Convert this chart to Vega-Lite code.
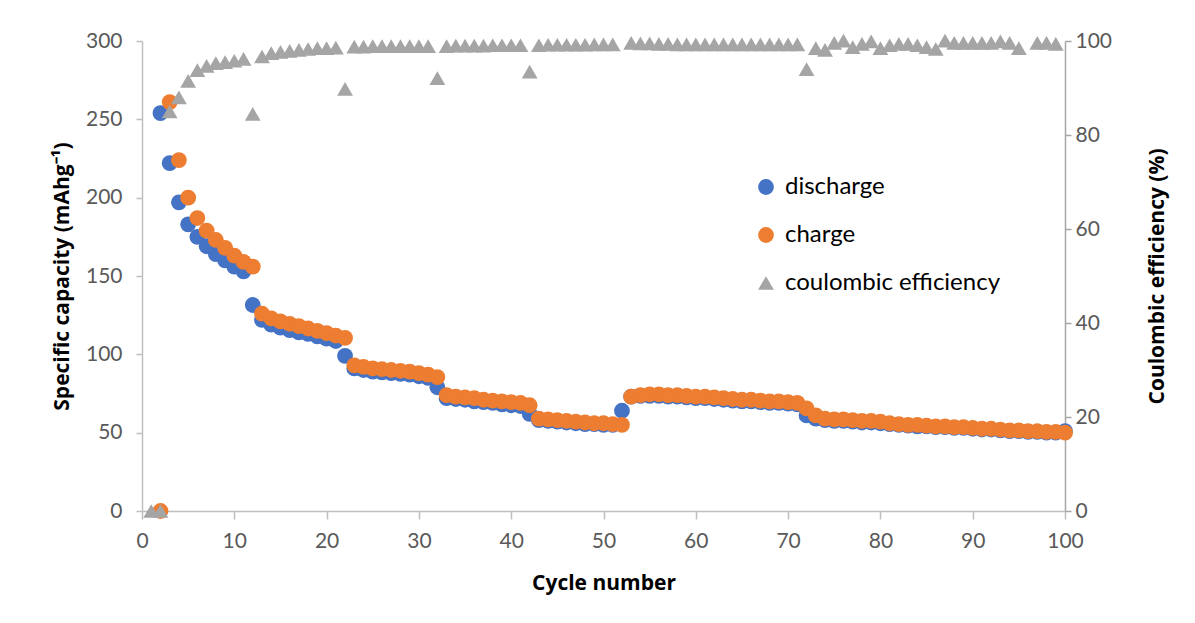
{
  "$schema": "https://vega.github.io/schema/vega-lite/v6.json",
  "autosize": {"type": "none"},
  "padding": {"left": 142, "top": 41, "right": 130, "bottom": 112},
  "width": 923,
  "height": 470,
  "background": "white",
  "config": {
    "view": {"stroke": null},
    "font": "Lato",
    "axis": {"grid": false, "labelFlush": false, "labelFont": "Lato", "titleFont": "Open Sans", "labelColor": "#595959", "titleColor": "#000000", "labelFontSize": 21, "titleFontSize": 21, "titleFontWeight": "bold", "domainColor": "#BFBFBF", "tickColor": "#BFBFBF", "tickSize": 6, "domainWidth": 1.5, "tickWidth": 1.5}
  },
  "datasets": {
    "dis": [
      {"cycle":2,"v":254},{"cycle":3,"v":222},{"cycle":4,"v":197},{"cycle":5,"v":183},{"cycle":6,"v":175},{"cycle":7,"v":169},{"cycle":8,"v":164},{"cycle":9,"v":160},{"cycle":10,"v":156},{"cycle":11,"v":153},
      {"cycle":12,"v":131.5},{"cycle":13,"v":122},{"cycle":14,"v":119},{"cycle":15,"v":117},{"cycle":16,"v":115.5},{"cycle":17,"v":114},{"cycle":18,"v":113},{"cycle":19,"v":111.5},{"cycle":20,"v":110},{"cycle":21,"v":108.5},
      {"cycle":22,"v":99},{"cycle":23,"v":91},{"cycle":24,"v":90},{"cycle":25,"v":89},{"cycle":26,"v":88.5},{"cycle":27,"v":88},{"cycle":28,"v":87.5},{"cycle":29,"v":87},{"cycle":30,"v":86},{"cycle":31,"v":85},
      {"cycle":32,"v":79},{"cycle":33,"v":72},{"cycle":34,"v":71.5},{"cycle":35,"v":71},{"cycle":36,"v":70},{"cycle":37,"v":69.5},{"cycle":38,"v":69},{"cycle":39,"v":68},{"cycle":40,"v":67.5},{"cycle":41,"v":67},
      {"cycle":42,"v":62},{"cycle":43,"v":58},{"cycle":44,"v":57.5},{"cycle":45,"v":57},{"cycle":46,"v":56.5},{"cycle":47,"v":56},{"cycle":48,"v":55.5},{"cycle":49,"v":55.5},{"cycle":50,"v":55},{"cycle":51,"v":55},
      {"cycle":52,"v":64},{"cycle":53,"v":73},{"cycle":54,"v":73.5},{"cycle":55,"v":73.5},{"cycle":56,"v":73.5},{"cycle":57,"v":73},{"cycle":58,"v":73},{"cycle":59,"v":72.5},{"cycle":60,"v":72},{"cycle":61,"v":72},
      {"cycle":62,"v":71.5},{"cycle":63,"v":71},{"cycle":64,"v":70.5},{"cycle":65,"v":70},{"cycle":66,"v":70},{"cycle":67,"v":69.5},{"cycle":68,"v":69},{"cycle":69,"v":69},{"cycle":70,"v":68.5},{"cycle":71,"v":68},
      {"cycle":72,"v":61},{"cycle":73,"v":59},{"cycle":74,"v":58},{"cycle":75,"v":57.5},{"cycle":76,"v":57.5},{"cycle":77,"v":57},{"cycle":78,"v":56.5},{"cycle":79,"v":56.5},{"cycle":80,"v":56},{"cycle":81,"v":55.5},
      {"cycle":82,"v":55},{"cycle":83,"v":54.5},{"cycle":84,"v":54},{"cycle":85,"v":54},{"cycle":86,"v":53.5},{"cycle":87,"v":53.5},{"cycle":88,"v":53},{"cycle":89,"v":53},{"cycle":90,"v":52.5},{"cycle":91,"v":52},
      {"cycle":92,"v":52},{"cycle":93,"v":51.5},{"cycle":94,"v":51},{"cycle":95,"v":51},{"cycle":96,"v":50.5},{"cycle":97,"v":50.5},{"cycle":98,"v":50},{"cycle":99,"v":50},{"cycle":100,"v":51}
    ],
    "chg": [
      {"cycle":2,"v":0},{"cycle":3,"v":261},{"cycle":4,"v":224},{"cycle":5,"v":200},{"cycle":6,"v":187},{"cycle":7,"v":179},{"cycle":8,"v":173},{"cycle":9,"v":168},{"cycle":10,"v":163},{"cycle":11,"v":159},
      {"cycle":12,"v":156},{"cycle":13,"v":126},{"cycle":14,"v":123},{"cycle":15,"v":121},{"cycle":16,"v":119.5},{"cycle":17,"v":118},{"cycle":18,"v":116.5},{"cycle":19,"v":115},{"cycle":20,"v":113.5},{"cycle":21,"v":112},
      {"cycle":22,"v":110.5},{"cycle":23,"v":93},{"cycle":24,"v":92},{"cycle":25,"v":91},{"cycle":26,"v":90.5},{"cycle":27,"v":90},{"cycle":28,"v":89.5},{"cycle":29,"v":89},{"cycle":30,"v":88},{"cycle":31,"v":87},
      {"cycle":32,"v":85.5},{"cycle":33,"v":74},{"cycle":34,"v":73},{"cycle":35,"v":72.5},{"cycle":36,"v":72},{"cycle":37,"v":71},{"cycle":38,"v":70.5},{"cycle":39,"v":70},{"cycle":40,"v":69.5},{"cycle":41,"v":69},
      {"cycle":42,"v":67.5},{"cycle":43,"v":59},{"cycle":44,"v":58.5},{"cycle":45,"v":58},{"cycle":46,"v":57.5},{"cycle":47,"v":57},{"cycle":48,"v":56.5},{"cycle":49,"v":56},{"cycle":50,"v":56},{"cycle":51,"v":55.5},
      {"cycle":52,"v":55},{"cycle":53,"v":73},{"cycle":54,"v":74},{"cycle":55,"v":74.5},{"cycle":56,"v":74.5},{"cycle":57,"v":74},{"cycle":58,"v":74},{"cycle":59,"v":73.5},{"cycle":60,"v":73},{"cycle":61,"v":73},
      {"cycle":62,"v":72.5},{"cycle":63,"v":72},{"cycle":64,"v":71.5},{"cycle":65,"v":71},{"cycle":66,"v":71},{"cycle":67,"v":70.5},{"cycle":68,"v":70},{"cycle":69,"v":70},{"cycle":70,"v":69.5},{"cycle":71,"v":69},
      {"cycle":72,"v":65.5},{"cycle":73,"v":61},{"cycle":74,"v":59},{"cycle":75,"v":58.5},{"cycle":76,"v":58.5},{"cycle":77,"v":58},{"cycle":78,"v":57.5},{"cycle":79,"v":57.5},{"cycle":80,"v":57},{"cycle":81,"v":56},
      {"cycle":82,"v":55.5},{"cycle":83,"v":55},{"cycle":84,"v":55},{"cycle":85,"v":54.5},{"cycle":86,"v":54},{"cycle":87,"v":54},{"cycle":88,"v":53.5},{"cycle":89,"v":53.5},{"cycle":90,"v":53},{"cycle":91,"v":52.5},
      {"cycle":92,"v":52.5},{"cycle":93,"v":52},{"cycle":94,"v":51.5},{"cycle":95,"v":51.5},{"cycle":96,"v":51},{"cycle":97,"v":51},{"cycle":98,"v":50.5},{"cycle":99,"v":50.5},{"cycle":100,"v":50}
    ],
    "ce": [
      {"cycle":1,"v":0},{"cycle":2,"v":0},{"cycle":3,"v":85},{"cycle":4,"v":88},{"cycle":5,"v":91.5},{"cycle":6,"v":93.8},{"cycle":7,"v":94.7},{"cycle":8,"v":95.3},{"cycle":9,"v":95.5},{"cycle":10,"v":95.8},
      {"cycle":11,"v":96.2},{"cycle":12,"v":84.5},{"cycle":13,"v":96.7},{"cycle":14,"v":97.4},{"cycle":15,"v":97.7},{"cycle":16,"v":97.9},{"cycle":17,"v":98.1},{"cycle":18,"v":98.3},{"cycle":19,"v":98.5},{"cycle":20,"v":98.5},
      {"cycle":21,"v":98.6},{"cycle":22,"v":89.8},{"cycle":23,"v":98.8},{"cycle":24,"v":98.8},{"cycle":25,"v":98.9},{"cycle":26,"v":98.9},{"cycle":27,"v":98.9},{"cycle":28,"v":98.9},{"cycle":29,"v":98.9},{"cycle":30,"v":98.9},
      {"cycle":31,"v":98.9},{"cycle":32,"v":92.1},{"cycle":33,"v":98.9},{"cycle":34,"v":99},{"cycle":35,"v":99},{"cycle":36,"v":99},{"cycle":37,"v":99},{"cycle":38,"v":99.1},{"cycle":39,"v":99.1},{"cycle":40,"v":99.1},
      {"cycle":41,"v":99.1},{"cycle":42,"v":93.5},{"cycle":43,"v":99.1},{"cycle":44,"v":99.2},{"cycle":45,"v":99.2},{"cycle":46,"v":99.2},{"cycle":47,"v":99.2},{"cycle":48,"v":99.2},{"cycle":49,"v":99.3},{"cycle":50,"v":99.3},
      {"cycle":51,"v":99.3},{"cycle":53,"v":99.6},{"cycle":54,"v":99.5},{"cycle":55,"v":99.5},{"cycle":56,"v":99.4},{"cycle":57,"v":99.4},{"cycle":58,"v":99.3},{"cycle":59,"v":99.3},{"cycle":60,"v":99.3},
      {"cycle":61,"v":99.3},{"cycle":62,"v":99.3},{"cycle":63,"v":99.3},{"cycle":64,"v":99.3},{"cycle":65,"v":99.3},{"cycle":66,"v":99.3},{"cycle":67,"v":99.3},{"cycle":68,"v":99.3},{"cycle":69,"v":99.3},{"cycle":70,"v":99.3},
      {"cycle":71,"v":99.3},{"cycle":72,"v":94},{"cycle":73,"v":98.5},{"cycle":74,"v":98.1},{"cycle":75,"v":99.6},{"cycle":76,"v":100.1},{"cycle":77,"v":98.7},{"cycle":78,"v":99.4},{"cycle":79,"v":99.9},{"cycle":80,"v":98.5},
      {"cycle":81,"v":99.1},{"cycle":82,"v":99.4},{"cycle":83,"v":99.4},{"cycle":84,"v":99.1},{"cycle":85,"v":98.7},{"cycle":86,"v":98.3},{"cycle":87,"v":100.1},{"cycle":88,"v":99.6},{"cycle":89,"v":99.6},{"cycle":90,"v":99.6},
      {"cycle":91,"v":99.6},{"cycle":92,"v":99.6},{"cycle":93,"v":99.9},{"cycle":94,"v":99.6},{"cycle":95,"v":98.5},{"cycle":97,"v":99.6},{"cycle":98,"v":99.6},{"cycle":99,"v":99.4}
    ]
  },
  "encoding": {
    "x": {"field": "cycle", "type": "quantitative", "scale": {"domain": [0, 100], "nice": false},
      "axis": {"values": [0,10,20,30,40,50,60,70,80,90,100], "title": "Cycle number", "tickSize": 8, "labelPadding": 11, "titlePadding": 21}}
  },
  "layer": [
    {
      "layer": [
        {"data": {"name": "dis"}, "transform": [{"calculate": "'discharge'", "as": "series"}],
         "mark": {"type": "point", "filled": true, "opacity": 1, "size": 250},
         "encoding": {
           "y": {"field": "v", "type": "quantitative", "scale": {"domain": [0, 300], "nice": false},
             "axis": {"values": [0,50,100,150,200,250,300], "title": "Specific capacity (mAhg⁻¹)", "labelPadding": 14, "titlePadding": 13}},
           "color": {"field": "series", "type": "nominal", "scale": {"domain": ["discharge", "charge", "coulombic efficiency"], "range": ["#4472C4", "#ED7D31", "#A5A5A5"]}, "legend": {"title": null, "orient": "none", "legendX": 612, "legendY": 134, "labelFontSize": 24, "labelFont": "Lato", "labelColor": "#000000", "labelLimit": 500, "symbolSize": 250, "rowPadding": 24, "labelOffset": 7, "symbolOpacity": 1}},
           "shape": {"field": "series", "type": "nominal", "scale": {"domain": ["discharge", "charge", "coulombic efficiency"], "range": ["circle", "circle", "triangle-up"]}, "legend": {"title": null, "orient": "none", "legendX": 612, "legendY": 134, "labelFontSize": 24, "labelFont": "Lato", "labelColor": "#000000", "labelLimit": 500, "symbolSize": 250, "rowPadding": 24, "labelOffset": 7, "symbolOpacity": 1}}
         }},
        {"data": {"name": "chg"}, "transform": [{"calculate": "'charge'", "as": "series"}],
         "mark": {"type": "point", "filled": true, "opacity": 1, "size": 250},
         "encoding": {
           "y": {"field": "v", "type": "quantitative"},
           "color": {"field": "series", "type": "nominal"},
           "shape": {"field": "series", "type": "nominal"}
         }}
      ]
    },
    {"data": {"name": "ce"}, "transform": [{"calculate": "'coulombic efficiency'", "as": "series"}],
     "mark": {"type": "point", "filled": true, "opacity": 1, "size": 250},
     "encoding": {
       "y": {"field": "v", "type": "quantitative", "scale": {"domain": [0, 100], "nice": false},
         "axis": {"orient": "right", "values": [0,20,40,60,80,100], "title": "Coulombic efficiency (%)", "titleAngle": 270, "labelPadding": 4, "titlePadding": 56, "domainColor": "#A6A6A6", "tickColor": "#A6A6A6"}},
       "color": {"field": "series", "type": "nominal"},
       "shape": {"field": "series", "type": "nominal"}
     }}
  ],
  "resolve": {"scale": {"y": "independent"}}
}
